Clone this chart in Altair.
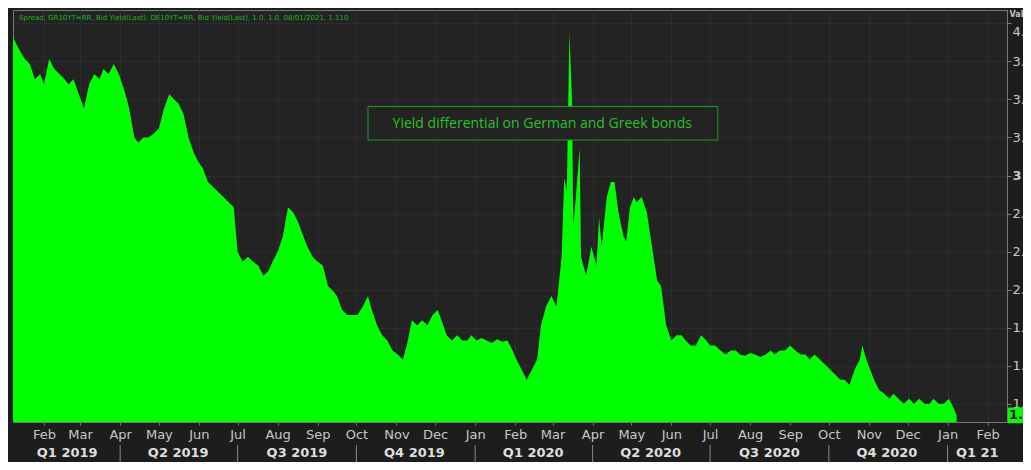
import altair as alt
import pandas as pd

# ---- data ----
dates = [
    "2019-01-08", "2019-01-13", "2019-01-17", "2019-01-21", "2019-01-25", "2019-01-29",
    "2019-02-01", "2019-02-05", "2019-02-09", "2019-02-13", "2019-02-17", "2019-02-20",
    "2019-02-24", "2019-02-28", "2019-03-04", "2019-03-08", "2019-03-12", "2019-03-16",
    "2019-03-19", "2019-03-23", "2019-03-27", "2019-03-31", "2019-04-04", "2019-04-08",
    "2019-04-12", "2019-04-15", "2019-04-19", "2019-04-23", "2019-04-27", "2019-05-01",
    "2019-05-05", "2019-05-09", "2019-05-12", "2019-05-16", "2019-05-20", "2019-05-24",
    "2019-05-28", "2019-06-01", "2019-06-04", "2019-06-08", "2019-06-12", "2019-06-16",
    "2019-06-20", "2019-06-24", "2019-06-28", "2019-07-01", "2019-07-05", "2019-07-09",
    "2019-07-13", "2019-07-17", "2019-07-21", "2019-07-25", "2019-07-28", "2019-08-01",
    "2019-08-05", "2019-08-09", "2019-08-13", "2019-08-17", "2019-08-21", "2019-08-24",
    "2019-08-28", "2019-09-01", "2019-09-05", "2019-09-09", "2019-09-13", "2019-09-16",
    "2019-09-20", "2019-09-24", "2019-09-28", "2019-10-02", "2019-10-06", "2019-10-10",
    "2019-10-13", "2019-10-17", "2019-10-21", "2019-10-25", "2019-10-29", "2019-11-02",
    "2019-11-06", "2019-11-09", "2019-11-13", "2019-11-17", "2019-11-21", "2019-11-25",
    "2019-11-29", "2019-12-03", "2019-12-06", "2019-12-10", "2019-12-14", "2019-12-18",
    "2019-12-22", "2019-12-26", "2019-12-29", "2020-01-02", "2020-01-06", "2020-01-10",
    "2020-01-14", "2020-01-18", "2020-01-22", "2020-01-26", "2020-01-30", "2020-02-02",
    "2020-02-06", "2020-02-10", "2020-02-14", "2020-02-18", "2020-02-21", "2020-02-25",
    "2020-02-29", "2020-03-04", "2020-03-08", "2020-03-10", "2020-03-12", "2020-03-14",
    "2020-03-16", "2020-03-17", "2020-03-19", "2020-03-22", "2020-03-23", "2020-03-27",
    "2020-03-31", "2020-04-04", "2020-04-06", "2020-04-08", "2020-04-12", "2020-04-15",
    "2020-04-18", "2020-04-21", "2020-04-25", "2020-04-27", "2020-04-30", "2020-05-03",
    "2020-05-05", "2020-05-09", "2020-05-13", "2020-05-17", "2020-05-21", "2020-05-24",
    "2020-05-28", "2020-06-01", "2020-06-05", "2020-06-09", "2020-06-12", "2020-06-16",
    "2020-06-20", "2020-06-24", "2020-06-28", "2020-07-01", "2020-07-05", "2020-07-09",
    "2020-07-13", "2020-07-17", "2020-07-21", "2020-07-24", "2020-07-28", "2020-08-01",
    "2020-08-05", "2020-08-09", "2020-08-13", "2020-08-17", "2020-08-20", "2020-08-24",
    "2020-08-28", "2020-09-01", "2020-09-05", "2020-09-09", "2020-09-13", "2020-09-16",
    "2020-09-20", "2020-09-24", "2020-09-28", "2020-10-02", "2020-10-06", "2020-10-10",
    "2020-10-13", "2020-10-17", "2020-10-21", "2020-10-25", "2020-10-27", "2020-10-30",
    "2020-11-02", "2020-11-05", "2020-11-09", "2020-11-13", "2020-11-17", "2020-11-20",
    "2020-11-24", "2020-11-28", "2020-12-02", "2020-12-06", "2020-12-10", "2020-12-14",
    "2020-12-18", "2020-12-21", "2020-12-25", "2020-12-29", "2021-01-02", "2021-01-06",
    "2021-01-08",
]
spread = [
    4.09, 3.99, 3.92, 3.88, 3.76, 3.80,
    3.72, 3.92, 3.84, 3.80, 3.76, 3.72,
    3.76, 3.64, 3.53, 3.72, 3.80, 3.76,
    3.84, 3.80, 3.88, 3.80, 3.68, 3.53,
    3.30, 3.26, 3.30, 3.30, 3.33, 3.37,
    3.53, 3.64, 3.61, 3.57, 3.49, 3.30,
    3.18, 3.10, 3.06, 2.95, 2.91, 2.87,
    2.83, 2.79, 2.75, 2.40, 2.32, 2.36,
    2.32, 2.29, 2.21, 2.25, 2.32, 2.40,
    2.52, 2.75, 2.71, 2.63, 2.52, 2.44,
    2.36, 2.32, 2.29, 2.13, 2.09, 2.05,
    1.94, 1.90, 1.90, 1.90, 1.97, 2.05,
    1.94, 1.82, 1.74, 1.70, 1.62, 1.59,
    1.55, 1.66, 1.86, 1.82, 1.86, 1.82,
    1.90, 1.94, 1.86, 1.74, 1.70, 1.74,
    1.70, 1.70, 1.74, 1.70, 1.72, 1.70,
    1.68, 1.71, 1.69, 1.70, 1.62, 1.55,
    1.47, 1.39, 1.47, 1.55, 1.82, 1.97,
    2.05, 1.97, 2.36, 2.98, 2.87, 4.13,
    3.61, 2.60, 2.83, 3.22, 2.36, 2.21,
    2.44, 2.29, 2.67, 2.44, 2.83, 2.95,
    2.95, 2.71, 2.52, 2.48, 2.75, 2.83,
    2.79, 2.83, 2.71, 2.44, 2.17, 2.13,
    1.82, 1.70, 1.74, 1.74, 1.70, 1.66,
    1.66, 1.74, 1.70, 1.66, 1.66, 1.62,
    1.59, 1.62, 1.62, 1.59, 1.58, 1.60,
    1.59, 1.57, 1.59, 1.62, 1.59, 1.62,
    1.62, 1.66, 1.62, 1.59, 1.59, 1.55,
    1.59, 1.55, 1.51, 1.47, 1.43, 1.39,
    1.39, 1.35, 1.47, 1.55, 1.66, 1.55,
    1.47, 1.39, 1.31, 1.28, 1.24, 1.28,
    1.24, 1.20, 1.24, 1.20, 1.24, 1.20,
    1.20, 1.24, 1.20, 1.20, 1.24, 1.16,
    1.11,
]

y_ticks = [1.2, 1.5, 1.8, 2.1, 2.4, 2.7, 3.0, 3.3, 3.6, 3.9, 4.2]

quarter_labels = ["Q1 2019", "Q2 2019", "Q3 2019", "Q4 2019", "Q1 2020",
                  "Q2 2020", "Q3 2020", "Q4 2020", "Q1 21"]
quarter_centers = ["2019-02-19", "2019-05-16", "2019-08-16", "2019-11-15", "2020-02-15",
                   "2020-05-16", "2020-08-16", "2020-11-15", "2021-01-24"]
quarter_starts = ["2019-04-01", "2019-07-01", "2019-10-01", "2020-01-01",
                  "2020-04-01", "2020-07-01", "2020-10-01", "2021-01-01"]

header = "Spread, GR10YT=RR, Bid Yield(Last), DE10YT=RR, Bid Yield(Last),  1.0, 1.0, 08/01/2021, 1.110"
note = "Yield differential on German and Greek bonds"
note_box = {"x1": "2019-10-10", "x2": "2020-07-07", "y1": 3.544, "y2": 3.28,
            "xc": "2020-02-22", "yc": 3.41}
last_value = 1.110
last_label = "1.110"

# ---- chart ----
W, H = 994, 412
BG = "#1d1d1d"
PLOT_BG = "#232323"
GRID = "#2d2d2d"
AXIS_GRAY = "#7a7a7a"
LABEL = "#c8c8c8"
FONT = "DejaVu Sans"

df = pd.DataFrame({"date": dates, "spread": spread})
q_df = pd.DataFrame({"date": quarter_centers, "label": quarter_labels})
qs_df = pd.DataFrame({"date": quarter_starts})
note_df = pd.DataFrame([note_box]).assign(text=note)
last_df = pd.DataFrame({"v": [last_value], "top": [last_value + 0.062],
                        "bot": [last_value - 0.062], "text": [last_label]})
head_df = pd.DataFrame({"text": [header]})

x_scale = alt.Scale(domain=[alt.DateTime(year=2019, month=1, date=8),
                            alt.DateTime(year=2021, month=2, date=16)])
y_scale = alt.Scale(domain=[1.057, 4.305], zero=False, nice=False)

x_axis = alt.Axis(
    title=None, format="%b", tickCount={"interval": "month", "step": 1},
    labelFlush=False, labelColor=LABEL, labelFont=FONT, labelFontSize=13,
    labelPadding=3, tickSize=3, tickColor=AXIS_GRAY, domain=False,
    grid=True, gridColor=GRID, labelOverlap=False,
)
y_axis = alt.Axis(
    orient="right", values=y_ticks, format=".1~f",
    labelColor=LABEL, labelFont=FONT, labelFontSize=13, labelPadding=1,
    labelFontWeight=alt.condition("datum.value == 3", alt.value("bold"), alt.value("normal")),
    labelOffset=alt.condition("datum.value > 4.1", alt.value(8), alt.value(0)),
    tickSize=4, tickColor=AXIS_GRAY, domainColor=AXIS_GRAY,
    grid=True, gridColor=GRID,
    title="Value", titleAngle=0, titleAlign="left", titleBaseline="top",
    titleX=2, titleY=0, titleFontSize=8, titleFont=FONT, titleColor=LABEL,
)

area = alt.Chart(df).mark_area(color="#00ff00", clip=True, interpolate="linear").encode(
    x=alt.X("date:T", scale=x_scale, axis=x_axis),
    y=alt.Y("spread:Q", scale=y_scale, axis=y_axis),
)

box = alt.Chart(note_df).mark_rect(fill=PLOT_BG, stroke="#1e9e1e", strokeWidth=1).encode(
    x="x1:T", x2="x2:T", y="y1:Q", y2="y2:Q",
)
box_text = alt.Chart(note_df).mark_text(
    color="#25c425", font="Open Sans", fontSize=14, align="center", baseline="middle",
).encode(x="xc:T", y="yc:Q", text="text:N")

head = alt.Chart(head_df).mark_text(
    color="#22b422", font=FONT, fontSize=7, align="left", baseline="middle",
).encode(x=alt.value(6), y=alt.value(8), text="text:N")

q_text = alt.Chart(q_df).mark_text(
    color="#dedede", font=FONT, fontSize=13, fontWeight="bold", baseline="middle",
).encode(x="date:T", y=alt.value(H + 31), text="label:N")

q_sep = alt.Chart(qs_df).mark_rule(color="#8a8a8a", strokeWidth=1).encode(
    x="date:T", y=alt.value(H + 23), y2=alt.value(H + 40),
)

last_box = alt.Chart(last_df).mark_rect(fill="#00ff00").encode(
    x=alt.value(W + 1), x2=alt.value(W + 40), y="top:Q", y2="bot:Q",
)
last_text = alt.Chart(last_df).mark_text(
    color="#000000", font=FONT, fontSize=13, fontWeight="bold", align="left", baseline="middle",
).encode(x=alt.value(W + 2), y="v:Q", text="text:N")

chart = alt.layer(area, box, box_text, head, q_sep, q_text, last_box, last_text).properties(
    width=W, height=H,
    autosize=alt.AutoSizeParams(type="none"),
    padding={"left": 5, "top": 2, "right": 16, "bottom": 40},
    background=BG,
).configure_view(fill=PLOT_BG, stroke=AXIS_GRAY, strokeWidth=1)

chart.save("out.html", embed_options={"renderer": "svg", "actions": False})
